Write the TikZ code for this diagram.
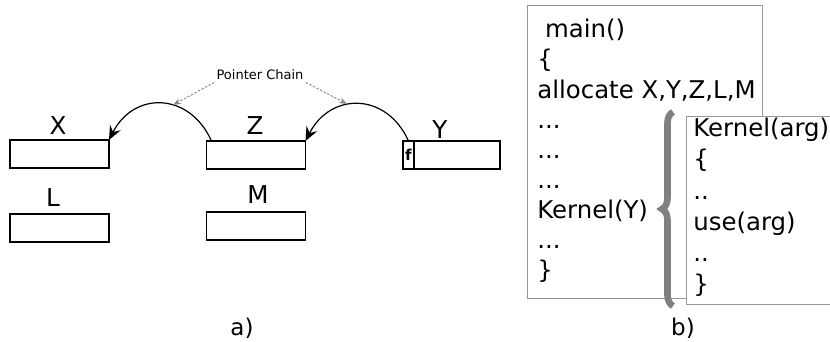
\documentclass[tikz,border=0pt]{standalone}
\usepackage{fontspec}
\setmainfont{DejaVu Sans}
\usetikzlibrary{arrows.meta,positioning,decorations.pathreplacing}

\begin{document}
\begin{tikzpicture}[
			x=0.5pt, y=-0.5pt,
			blocco/.style={draw=black, line width=0.55pt, fill=white,
				inner sep=0pt, outer sep=0pt,
				minimum width=49.5pt, minimum height=14pt},
			cella/.style={blocco, minimum width=5.5pt,
				font=\fontsize{7.5}{8}\selectfont\bfseries},
			nome/.style={inner sep=0pt, font=\fontsize{12.3}{14}\selectfont},
			puntatore/.style={line width=0.6pt, black,
				-{Stealth[length=7pt, width=6pt, inset=2.5pt]}},
			catena/.style={dash pattern=on 1.2pt off 0.8pt, black!45,
				line width=0.5pt, -{Stealth[length=4pt, width=3pt]}},
			cornice/.style={draw=black!40, line width=0.5pt, fill=white,
				inner sep=0pt, outer sep=0pt, anchor=north west},
			riga/.style={anchor=base west, inner sep=0pt,
				font=\fontsize{12.2}{14}\selectfont},
			graffa/.style={decorate, decoration={brace, amplitude=5.5pt},
				draw=black!50, line width=3.3pt},
			didascalia/.style={inner sep=0pt, font=\fontsize{11.5}{13}\selectfont},
			]
			%% pannello (a)
			\useasboundingbox (0,0) rectangle (830,342);
			
			% blocchi allocati
			\node[blocco] (boxX) at (59.5,154) {};
			\node[blocco] (boxZ) at (256,155) {};
			\node[cella]  (cellf) at (408.5,155) {f};
			\node[blocco, minimum width=43pt, right=0pt of cellf] (boxY) {};
			\node[blocco] (boxL) at (59.5,228) {};
			\node[blocco] (boxM) at (256,226) {};
			
			% nomi dei blocchi
			\node[nome] (nomeX) at (58,126) {X};
			\node[nome] (nomeZ) at (255,126) {Z};
			\node[nome] (nomeY) at (440,130) {Y};
			\node[nome] (nomeL) at (53,198) {L};
			\node[nome] (nomeM) at (258,195) {M};
			
			% puntatori
			\draw[puntatore] ([xshift=2.5pt]boxZ.north west)
			.. controls +(-22,-49) and +(25,-49) .. (boxX.north east);
			\draw[puntatore] (cellf.north)
			.. controls +(-22,-49) and +(25,-49) .. (boxZ.north east);
			
			% catena
			\node[inner sep=1pt, font=\fontsize{6.5}{8}\selectfont]
			(catena) at (260,75) {Pointer Chain};
			\coordinate (cimaA) at (173,105);
			\coordinate (cimaB) at (347,104);
			\draw[catena] (catena.south west) -- (cimaA);
			\draw[catena] (catena.south east) -- (cimaB);
			
			\node[didascalia] (pannelloA) at (242,328) {a)};
			
			%% pannello (b)
			\node[cornice, minimum width=117.5pt, minimum height=146pt]
			(codice) at (527,6) {};
			\node[cornice, minimum width=130pt, minimum height=93.5pt]
			(kernel) at (686,117) {};
			
			\node[riga] (r1) at (537,38)  {\ main()};
			\node[riga] (r2) at (537,68)  {\{};
			\node[riga] (r3) at (537,98)  {allocate X,Y,Z,L,M};
			\node[riga] (r4) at (537,128) {...};
			\node[riga] (r5) at (537,158) {...};
			\node[riga] (r6) at (537,188) {...};
			\node[riga] (r7) at (537,218) {Kernel(Y)};
			\node[riga] (r8) at (537,248) {...};
			\node[riga] (r9) at (537,278) {\}};
			
			\node[riga] (k1) at (693,137) {Kernel(arg)};
			\node[riga] (k2) at (693,168) {\{};
			\node[riga] (k3) at (693,199) {..};
			\node[riga] (k4) at (693,230) {use(arg)};
			\node[riga] (k5) at (693,261) {..};
			\node[riga] (k6) at (693,292) {\}};
			
			% graffa della chiamata
			\draw[graffa] (673,306) -- (673,112);
			
			\node[didascalia] (pannelloB) at (683,328) {b)};
			
\end{tikzpicture}
\end{document}
